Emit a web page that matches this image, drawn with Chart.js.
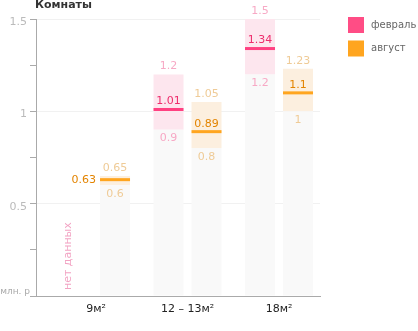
<!DOCTYPE html>
<html>
<head>
<meta charset="utf-8">
<script src="https://cdn.jsdelivr.net/npm/chart.js@4/dist/chart.umd.min.js"></script>
<style>
html,body{margin:0;padding:0;background:#fff;}
canvas{display:block;}
</style>
</head>
<body>
<canvas id="c" width="418" height="331"></canvas>
<script>
const title = 'Комнаты';
const unitLabel = 'млн. р';
const noDataLabel = 'нет данных';
const categories = ['9м²', '12 – 13м²', '18м²'];
const seriesNames = ['февраль', 'август'];
const febLow  = [null, 0.9, 1.2];
const febMed  = [null, 1.01, 1.34];
const febHigh = [null, 1.2, 1.5];
const augLow  = [0.6, 0.8, 1.0];
const augMed  = [0.63, 0.89, 1.1];
const augHigh = [0.65, 1.05, 1.23];
const yTicks = [0, 0.25, 0.5, 0.75, 1, 1.25, 1.5];

const FONT = '"DejaVu Sans", Verdana, sans-serif';
const styles = [
  {line:'#ff4081', band:'#fde6ee', grey:'#f9f9f9', faint:'#f7a9c5', strong:'#ee2d6c', legend:'#ff4d85'},
  {line:'#ffa51f', band:'#fcefdf', grey:'#f9f9f9', faint:'#efcb97', strong:'#e38400', legend:'#ffa51f'}
];
const lows = [febLow, augLow], meds = [febMed, augMed], highs = [febHigh, augHigh];

function greyData(low){ return low.map((v,i)=>({x:i, y: v==null ? null : [0, v]})); }
function bandData(low, high){ return low.map((v,i)=>({x:i, y: v==null ? null : [v, high[i]]})); }

const labelPlugin = {
  id:'labels',
  afterDatasetsDraw(chart){
    const ctx = chart.ctx, ys = chart.scales.y, xs = chart.scales.x;
    ctx.save();
    ctx.font = '11px ' + FONT;
    ctx.textBaseline = 'middle';
    [1,3].forEach((di, s) => {
      const meta = chart.getDatasetMeta(di);
      const st = styles[s];
      categories.forEach((c, i) => {
        if (lows[s][i] == null) return;
        const el = meta.data[i];
        const x = el.x, w = el.width;
        const yH = ys.getPixelForValue(highs[s][i]);
        const yL = ys.getPixelForValue(lows[s][i]);
        const yM = ys.getPixelForValue(meds[s][i]);
        ctx.fillStyle = st.line;
        ctx.fillRect(x - w/2, yM - 1.5, w, 3);
        ctx.textAlign = 'center';
        ctx.fillStyle = st.faint;
        ctx.fillText(String(highs[s][i]), x, yH - 8);
        ctx.fillText(String(lows[s][i]), x, yL + 8.5);
        ctx.fillStyle = st.strong;
        if (yL - yH < 20) {
          ctx.textAlign = 'right';
          ctx.fillText(String(meds[s][i]), x - w/2 - 4, yM);
        } else {
          ctx.fillText(String(meds[s][i]), x, yM - 8);
        }
      });
    });
    // no data label
    categories.forEach((c, i) => {
      if (febLow[i] == null) {
        const px = xs.getPixelForValue(i) - 28;
        ctx.save();
        ctx.translate(px, ys.getPixelForValue(0) - 6);
        ctx.rotate(-Math.PI/2);
        ctx.textAlign = 'left';
        ctx.fillStyle = '#f2a3c3';
        ctx.fillText(noDataLabel, 0, 0);
        ctx.restore();
      }
    });
    // title
    ctx.font = 'bold 11px ' + FONT;
    ctx.textAlign = 'left';
    ctx.textBaseline = 'alphabetic';
    ctx.fillStyle = '#333';
    ctx.fillText(title, chart.chartArea.left - 1, 8);
    // unit label
    ctx.font = '9px ' + FONT;
    ctx.textAlign = 'right';
    ctx.textBaseline = 'middle';
    ctx.fillStyle = '#aaa';
    ctx.fillText(unitLabel, 30, ys.getPixelForValue(0) - 4);
    // legend
    ctx.font = '10px ' + FONT;
    ctx.textAlign = 'left';
    seriesNames.forEach((n, s) => {
      const top = 17 + s * 23.5;
      ctx.fillStyle = styles[s].legend;
      ctx.fillRect(348, top, 16, 16);
      ctx.fillStyle = '#666';
      ctx.fillText(n, 371, top + 8);
    });
    ctx.restore();
  }
};

new Chart(document.getElementById('c'), {
  type:'bar',
  data:{
    datasets:[
      {label:seriesNames[0]+' base', data:greyData(febLow), backgroundColor:styles[0].grey, stack:'feb'},
      {label:seriesNames[0], data:bandData(febLow, febHigh), backgroundColor:styles[0].band, stack:'feb'},
      {label:seriesNames[1]+' base', data:greyData(augLow), backgroundColor:styles[1].grey, stack:'aug'},
      {label:seriesNames[1], data:bandData(augLow, augHigh), backgroundColor:styles[1].band, stack:'aug'}
    ]
  },
  options:{
    responsive:false,
    devicePixelRatio:1,
    animation:false,
    categoryPercentage:0.8306,
    barPercentage:0.7895,
    borderWidth:0,
    layout:{padding:{top:19, right:98, left:0, bottom:0}},
    plugins:{legend:{display:false}, tooltip:{enabled:false}, title:{display:false}},
    scales:{
      x:{
        type:'linear', offset:false, min:-0.656, max:2.448,
        afterBuildTicks(scale){ scale.ticks = categories.map((c,i)=>({value:i})); },
        afterFit(scale){ scale.height = 35; },
        grid:{display:false, drawTicks:false},
        border:{display:true, color:'#aaa', width:1},
        ticks:{autoSkip:false, maxRotation:0, padding:7, color:'#222', font:{family:FONT, size:11},
          callback:(v, i)=>categories[i]}
      },
      y:{
        min:0, max:1.5, stacked:false,
        afterBuildTicks(scale){ scale.ticks = yTicks.map(v=>({value:v})); },
        afterFit(scale){ scale.width = 36; },
        grid:{
          color:(c)=> (c.tick && c.tick.value > 0 && Math.abs(c.tick.value*2 - Math.round(c.tick.value*2)) < 1e-9) ? '#f1f1f1' : 'rgba(0,0,0,0)',
          tickColor:'#aaa', tickLength:6
        },
        border:{display:true, color:'#aaa', width:1},
        ticks:{padding:3, labelOffset:3, color:'#bbb', font:{family:FONT, size:11},
          callback:(v)=> (v > 0 && Math.abs(v*2 - Math.round(v*2)) < 1e-9) ? String(v) : ''}
      }
    }
  },
  plugins:[labelPlugin]
});
</script>
</body>
</html>
